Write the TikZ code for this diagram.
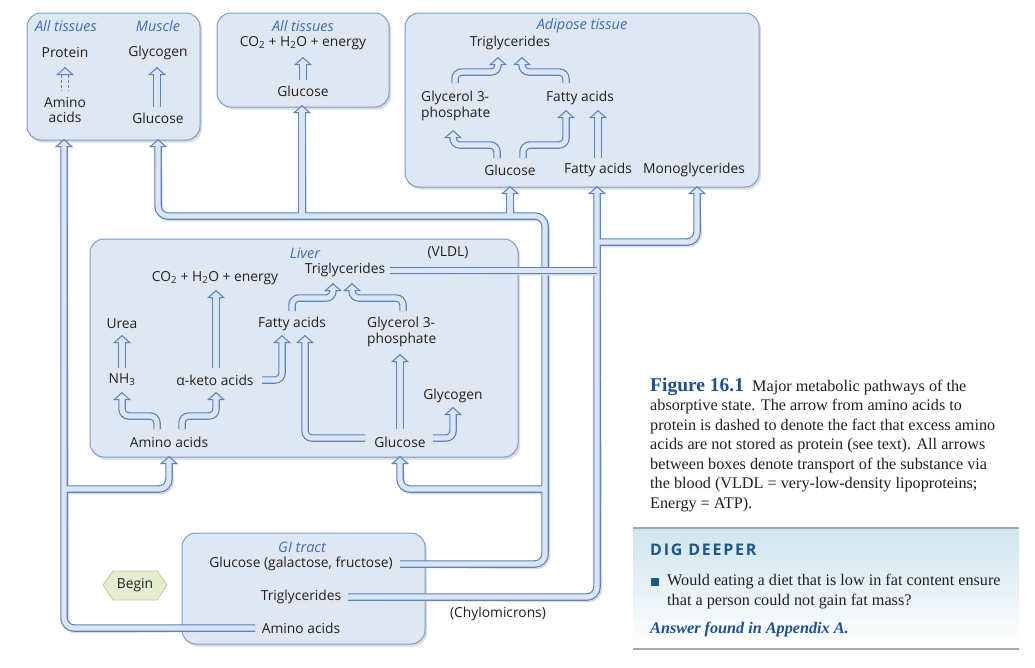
\documentclass[tikz,border=0pt]{standalone}
\usepackage{fontspec}
\setmainfont{Open Sans}
\newfontfamily\capfont{Liberation Serif}
\newfontfamily\digfont[LetterSpace=11]{Open Sans}
\usetikzlibrary{calc}
\definecolor{boxfill}{HTML}{DFE7F2}
\definecolor{boxdraw}{HTML}{7C9CCF}
\definecolor{pipedraw}{HTML}{5B82C3}
\definecolor{pipefill}{HTML}{DCE5F2}
\definecolor{ttlblue}{HTML}{3E6EB4}
\definecolor{textcol}{HTML}{231F20}
\definecolor{shadowcol}{HTML}{D8DBE0}
\definecolor{beginfill}{HTML}{E4EDCF}
\definecolor{begindraw}{HTML}{B9CF8F}
\definecolor{figblue}{HTML}{1D4F91}
\definecolor{digblue}{HTML}{1F5783}
\definecolor{digtop}{HTML}{CFE5EE}
\definecolor{rulegray}{HTML}{A8A8A8}
\tikzset{
  lbl/.style={font=\fontsize{13.8}{16}\selectfont, text=textcol, inner sep=0pt, align=center},
  lbll/.style={lbl, align=left, anchor=west},
  ttl/.style={inner sep=0pt, font=\fontsize{14.5}{16}\selectfont\itshape, text=ttlblue},
  boxx/.style={draw=boxdraw, fill=boxfill, rounded corners=14pt, line width=1pt},
  boxshadow/.style={fill=shadowcol, rounded corners=14pt},
  captext/.style={anchor=base west, inner sep=0pt, text=textcol, font=\capfont\fontsize{16.2}{19.5}\selectfont},
}
% pipe networks; #1 = offset of the stroke end below the arrow tip
\newcommand\netG[1]{%
  \draw (gGI) -- (545,564) -- (545,216) -- (158,216) -- ($(tMus)+(0,#1)$);
  \draw (302,216) -- ($(tAllG)+(0,#1)$);
  \draw (510,216) -- ($(tAdG)+(0,#1)$);
  \draw (545,489) -- (400,489) -- ($(tLivG)+(0,#1)$);
}
\newcommand\netT[1]{%
  \draw (tGI) -- (597,597) -- ($(tAdF)+(0,#1)$);
  \draw (597,242) -- (697,242) -- ($(tAdM)+(0,#1)$);
}
\newcommand\netV[1]{%
  \draw (tLiv) -- (597,270.5);
}
\newcommand\netA[1]{%
  \draw (aGI) -- (64,628) -- ($(tAllA)+(0,#1)$);
  \draw (64,489) -- (169,489) -- ($(tLivA)+(0,#1)$);
}
\newcommand\netIn[1]{%
  \draw (157,107) -- (157,{67+#1});
  \draw (303,80) -- (303,{57+#1});
  \draw (455,83) -- (455,72) -- (498,72) -- (498,{57+#1});
  \draw (566,83) -- (566,72) -- (522,72) -- (522,{57+#1});
  \draw (497,158) -- (497,145) -- (453,145) -- (453,{130+#1});
  \draw (523,158) -- (523,145) -- (566,145) -- (566,{110+#1});
  \draw (598,158) -- (598,{110+#1});
  \draw (122,368) -- (122,{335+#1});
  \draw (216,368) -- (216,{290+#1});
  \draw (157,429) -- (157,416) -- (122,416) -- (122,{392+#1});
  \draw (182,429) -- (182,416) -- (216,416) -- (216,{392+#1});
  \draw (262,380) -- (282,380) -- (282,{335+#1});
  \draw (365,438) -- (305,438) -- (305,{335+#1});
  \draw (400,429) -- (400,{354+#1});
  \draw (433,438) -- (453,438) -- (453,{407+#1});
  \draw (292,311) -- (292,298) -- (333,298) -- (333,{283+#1});
  \draw (403,311) -- (403,298) -- (352,298) -- (352,{283+#1});
}
\newcommand\headsout[1]{\foreach \t in {#1} {\fill[sharp corners] (\t) -- ++(-9,8) -- ++(18,0) -- cycle;}}
\newcommand\headsin[1]{\foreach \t in {#1} {\fill[sharp corners] ($(\t)+(0,1.6)$) -- ++(-5.85,5.2) -- ++(11.7,0) -- cycle;}}
\newcommand\drawnet[3]{%
  \begin{scope}[shadowcol, line width=7.5pt, rounded corners=10pt, shift={(1.6,1.6)}]
    #1{7} \ifx\relax#2\relax\else\headsout{#2}\fi
  \end{scope}
  \begin{scope}[pipedraw, line width=7.5pt, rounded corners=#3]
    #1{7} \ifx\relax#2\relax\else\headsout{#2}\fi
  \end{scope}
  \begin{scope}[pipefill, line width=5.1pt, rounded corners=#3]
    #1{6} \ifx\relax#2\relax\else\headsin{#2}\fi
  \end{scope}
}
\begin{document}
\begin{tikzpicture}[x=1pt,y=-1pt]
\useasboundingbox (0,0) rectangle (1035,667);
\fill[white] (0,0) rectangle (1035,667);
% boxes
\foreach \a/\b in {{27,13}/{200,140},{217,13}/{389,107},{405,13}/{759,187},{90,239}/{518,457},{182,533}/{425,644}}
  \fill[boxshadow] ($(\a)+(2,2.5)$) rectangle ($(\b)+(2,2.5)$);
\draw[boxx] (27,13) rectangle (200,140);
\draw[boxx] (217,13) rectangle (389,107);
\draw[boxx] (405,13) rectangle (759,187);
\draw[boxx] (90,239) rectangle (518,457);
\draw[boxx] (182,533) rectangle (425,644);
% named end points of the pipes
\coordinate (gGI) at (400,564);
\coordinate (tGI) at (348,597);
\coordinate (aGI) at (255,628);
\coordinate (tLiv) at (390,270.5);
\coordinate (tMus) at (158,139);
\coordinate (tAllG) at (302,105);
\coordinate (tAdG) at (510,186);
\coordinate (tLivG) at (400,456);
\coordinate (tAdF) at (597,186);
\coordinate (tAdM) at (697,186);
\coordinate (tAllA) at (64,139);
\coordinate (tLivA) at (169,456);
\foreach \n/\x/\y in {i1/157/67,i2/303/57,i3/498/57,i4/522/57,i5/453/130,i6/566/110,i7/598/110,i8/122/335,i9/216/290,i10/122/392,i11/216/392,i12/282/335,i13/305/335,i14/400/354,i15/453/407,i16/333/283,i17/352/283,i18/65/67}
  {\coordinate (\n) at (\x,\y);}
% pipes between boxes
\drawnet{\netG}{tMus,tAllG,tAdG,tLivG}{10pt}
\drawnet{\netT}{tAdF,tAdM}{10pt}
\drawnet{\netV}{}{10pt}
\drawnet{\netA}{tAllA,tLivA}{10pt}
% arrows inside boxes
\begin{scope}[pipedraw, line width=7.5pt, rounded corners=7pt]
  \netIn{7} \headsout{i1,i2,i3,i4,i5,i6,i7,i8,i9,i10,i11,i12,i13,i14,i15,i16,i17,i18}
\end{scope}
\begin{scope}[pipefill, line width=5.1pt, rounded corners=7pt]
  \netIn{6} \headsin{i1,i2,i3,i4,i5,i6,i7,i8,i9,i10,i11,i12,i13,i14,i15,i16,i17,i18}
\end{scope}
% dashed stem (amino acids -> protein)
\draw[pipedraw, line width=1pt, dash pattern=on 3pt off 2pt] (61.9,75) -- (61.9,91) (68.1,75) -- (68.1,91);
% texts: box 1
\node[ttl] (t1) at (66,26) {All tissues};
\node[ttl] (t2) at (158,26) {Muscle};
\node[lbl] (prot) at (65,53) {Protein};
\node[lbl] (glyc1) at (158,53) {Glycogen};
\node[lbl] (amino1) at (65,110) {Amino\\acids};
\node[lbl] (gluc1) at (158,118) {Glucose};
% box 2
\node[ttl] (t3) at (303,26) {All tissues};
\node[lbl] (co2a) at (303,43) {CO\textsubscript{2} + H\textsubscript{2}O + energy};
\node[lbl] (gluc2) at (303,91) {Glucose};
% adipose
\node[ttl] (t4) at (582,26) {Adipose tissue};
\node[lbl] (tg1) at (510,43) {Triglycerides};
\node[lbll] (g3p1) at (421,106) {Glycerol 3-\\phosphate};
\node[lbl] (fa1) at (580,98) {Fatty acids};
\node[lbl] (gluc3) at (510,170) {Glucose};
\node[lbl] (fa2) at (598,170) {Fatty acids};
\node[lbl] (mono) at (694,170) {Monoglycerides};
% liver
\node[ttl] (t5) at (305,253) {Liver};
\node[lbl] (vldl) at (448,253) {(VLDL)};
\node[lbl] (tg2) at (345,270) {Triglycerides};
\node[lbl] (co2b) at (215,278) {CO\textsubscript{2} + H\textsubscript{2}O + energy};
\node[lbl] (urea) at (122,324) {Urea};
\node[lbl] (fa3) at (292,324) {Fatty acids};
\node[lbll] (g3p2) at (367,332) {Glycerol 3-\\phosphate};
\node[lbl] (nh3) at (122,380) {NH\textsubscript{3}};
\node[lbl] (keto) at (215,380) {α-keto acids};
\node[lbl] (glyc2) at (453,396) {Glycogen};
\node[lbl] (amino2) at (169,442) {Amino acids};
\node[lbl] (gluc4) at (400,442) {Glucose};
% GI tract
\node[ttl] (t6) at (302,547) {GI tract};
\node[lbl] (gluc5) at (301,564) {Glucose (galactose, fructose)};
\node[lbl] (tg3) at (301,597) {Triglycerides};
\node[lbl] (amino3) at (301,628) {Amino acids};
\node[lbl] (chylo) at (498,614) {(Chylomicrons)};
% begin
\filldraw[fill=beginfill, draw=begindraw, line width=0.8pt] (103,585) -- (113,571) -- (157,571) -- (167,585) -- (157,600) -- (113,600) -- cycle;
\node[lbl] (begin) at (135,585) {Begin};
% caption
\node[captext] (c1) at (650,391) {{\fontsize{19.5}{19}\selectfont\bfseries\color{figblue}Figure 16.1}\ \ Major metabolic pathways of the};
\node[captext] (c2) at (650,410.5) {absorptive state. The arrow from amino acids to};
\node[captext] (c3) at (650,430) {protein is dashed to denote the fact that excess amino};
\node[captext] (c4) at (650,449.5) {acids are not stored as protein (see text). All arrows};
\node[captext] (c5) at (650,469) {between boxes denote transport of the substance via};
\node[captext] (c6) at (650,488.5) {the blood (VLDL = very-low-density lipoproteins;};
\node[captext] (c7) at (650,508) {Energy = ATP).};
% dig deeper panel
\shade[top color=digtop, bottom color=white] (633,528) rectangle (1019,648);
\draw[rulegray, line width=1.6pt] (633,528) -- (1019,528);
\draw[rulegray, line width=1.2pt] (633,649) -- (1019,649);
\node[anchor=base west, inner sep=0pt, text=digblue, font=\digfont\fontsize{16}{18}\selectfont\bfseries] (dig) at (650,555) {DIG DEEPER};
\fill[digblue] (651,578) rectangle (659,586);
\node[captext] (q1) at (667,585) {Would eating a diet that is low in fat content ensure};
\node[captext] (q2) at (667,605) {that a person could not gain fat mass?};
\node[captext, text=figblue, font=\capfont\fontsize{16.2}{19}\selectfont\bfseries\itshape] (ans) at (650,633) {Answer found in Appendix A.};
\end{tikzpicture}
\end{document}
